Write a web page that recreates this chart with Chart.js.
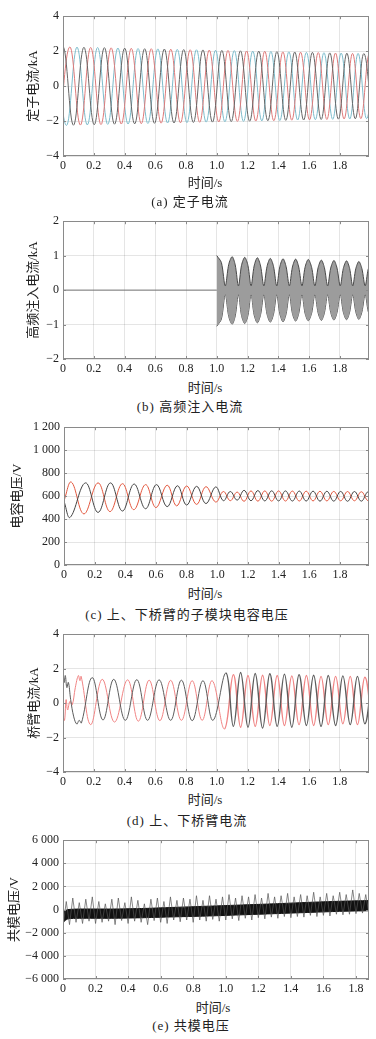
<!DOCTYPE html>
<html><head><meta charset="utf-8">
<script src="https://cdn.jsdelivr.net/npm/chart.js@4/dist/chart.umd.min.js"></script>
<style>
html,body{margin:0;padding:0;background:#fff;}
body{width:376px;height:1039px;position:relative;overflow:hidden;}
canvas{position:absolute;left:0;}
.t{position:absolute;font-size:13px;font-family:"Liberation Serif","Noto Sans CJK SC",serif;color:#222;line-height:16px;white-space:nowrap;transform:translateX(-50%);}
.cap{letter-spacing:1px;}
</style></head><body>
<canvas id="ca" width="376" height="171" style="top:5px"></canvas>
<canvas id="cb" width="376" height="169" style="top:210px"></canvas>
<canvas id="cc" width="376" height="169" style="top:416px"></canvas>
<canvas id="cd" width="376" height="169" style="top:623px"></canvas>
<canvas id="ce" width="376" height="170" style="top:829px"></canvas>
<div class="t" style="left:205px;top:175px">时间/s</div>
<div class="t cap" style="left:190px;top:194px">(a) 定子电流</div>
<div class="t" style="left:205px;top:380px">时间/s</div>
<div class="t cap" style="left:190px;top:399px">(b) 高频注入电流</div>
<div class="t" style="left:205px;top:586px">时间/s</div>
<div class="t cap" style="left:187px;top:607px">(c) 上、下桥臂的子模块电容电压</div>
<div class="t" style="left:205px;top:792px">时间/s</div>
<div class="t cap" style="left:187px;top:813px">(d) 上、下桥臂电流</div>
<div class="t" style="left:213px;top:1000px">时间/s</div>
<div class="t cap" style="left:191px;top:1018px">(e) 共模电压</div>
<script>
// ---------- (a) stator currents: extrema (time s, value kA) ----------
const aBlackT = [-0.068,0,0.068,0.136,0.203,0.269,0.335,0.401,0.466,0.531,0.595,0.659,0.722,0.785,0.848,0.910,0.972,1.033,1.094,1.154,1.214,1.273,1.332,1.391,1.449,1.507,1.565,1.622,1.679,1.735,1.791,1.846,1.901,1.956,2.010];
const aBlackV = [-2.26,2.25,-2.24,2.22,-2.21,2.20,-2.18,2.17,-2.16,2.14,-2.13,2.12,-2.11,2.09,-2.08,2.07,-2.06,2.04,-2.03,2.02,-2.01,2.00,-1.98,1.97,-1.96,1.95,-1.94,1.93,-1.91,1.90,-1.89,1.88,-1.87,1.86,-1.85];
const aRedT = [-0.023,0.045,0.113,0.180,0.247,0.313,0.379,0.444,0.509,0.574,0.638,0.701,0.764,0.827,0.889,0.951,1.013,1.073,1.134,1.194,1.254,1.312,1.371,1.430,1.488,1.545,1.603,1.660,1.716,1.772,1.828,1.883,1.937,1.992,2.046];
const aRedV = [-2.26,2.24,-2.23,2.21,-2.20,2.19,-2.17,2.16,-2.15,2.14,-2.12,2.11,-2.10,2.08,-2.07,2.06,-2.05,2.04,-2.02,2.01,-2.00,1.99,-1.98,1.96,-1.95,1.94,-1.93,1.92,-1.91,1.89,-1.88,1.87,-1.86,1.85,-1.84];
const aCyanT = [-0.045,0.023,0.091,0.158,0.225,0.291,0.357,0.423,0.488,0.552,0.617,0.680,0.743,0.806,0.868,0.931,0.992,1.053,1.114,1.174,1.234,1.293,1.352,1.410,1.469,1.526,1.583,1.641,1.697,1.754,1.809,1.865,1.919,1.974,2.028];
const aCyanV = [2.26,-2.25,2.23,-2.22,2.21,-2.19,2.18,-2.17,2.15,-2.14,2.13,-2.11,2.10,-2.09,2.08,-2.06,2.05,-2.04,2.03,-2.02,2.00,-1.99,1.98,-1.97,1.96,-1.94,1.93,-1.92,1.91,-1.90,1.89,-1.88,1.87,-1.86,1.85];

// ---------- (b) HF injection current ----------
const bZeroT = [0, 1.0];
const bZeroV = [0, 0];
const bEnvT = [1.000,1.030,1.055,1.078,1.100,1.120,1.141,1.161,1.182,1.203,1.223,1.243,1.264,1.285,1.306,1.327,1.348,1.369,1.390,1.410,1.431,1.451,1.472,1.492,1.513,1.533,1.554,1.574,1.595,1.617,1.638,1.659,1.680,1.700,1.721,1.741,1.762,1.782,1.803,1.823,1.844,1.864,1.884,1.904,1.924,1.944,1.965,1.985,2.006];
const bEnvUp = [1.00,0.80,0.12,0.75,0.97,0.73,0.12,0.72,0.95,0.71,0.12,0.70,0.94,0.70,0.12,0.69,0.92,0.69,0.12,0.68,0.91,0.68,0.12,0.67,0.90,0.67,0.12,0.66,0.89,0.66,0.12,0.65,0.87,0.65,0.12,0.64,0.86,0.64,0.12,0.63,0.85,0.63,0.12,0.62,0.83,0.62,0.12,0.61,0.82];
const bEnvLo = [-1.05,-0.84,-0.12,-0.77,-0.99,-0.75,-0.12,-0.74,-0.97,-0.73,-0.12,-0.72,-0.95,-0.71,-0.12,-0.70,-0.93,-0.70,-0.12,-0.69,-0.92,-0.69,-0.12,-0.68,-0.90,-0.68,-0.12,-0.67,-0.89,-0.67,-0.12,-0.66,-0.88,-0.66,-0.12,-0.65,-0.87,-0.65,-0.12,-0.64,-0.86,-0.64,-0.12,-0.63,-0.85,-0.63,-0.12,-0.62,-0.84];

// ---------- (c) sub-module capacitor voltage ----------
const cRedT = [0,0.048,0.130,0.222,0.300,0.381,0.455,0.532,0.600,0.673,0.735,0.800,0.865,0.926,0.990,1.040,1.085,1.130,1.175,1.220,1.265,1.310,1.355,1.400,1.445,1.490,1.535,1.580,1.625,1.670,1.715,1.760,1.805,1.850,1.895,1.940,1.985,2.030];
const cRedV = [560,722,445,715,465,708,482,700,500,695,515,688,528,682,548,640,560,635,555,645,556,645,556,645,557,644,557,643,558,642,558,641,559,640,559,638,560,637];
const cBlackT = [0,0.040,0.140,0.222,0.303,0.381,0.457,0.532,0.603,0.673,0.740,0.800,0.865,0.926,0.990,1.040,1.085,1.130,1.175,1.220,1.265,1.310,1.355,1.400,1.445,1.490,1.535,1.580,1.625,1.670,1.715,1.760,1.805,1.850,1.895,1.940,1.985,2.030];
const cBlackV = [555,415,715,458,715,470,705,490,700,508,690,522,685,535,680,560,640,565,650,560,648,558,646,558,645,557,644,557,643,556,642,556,641,555,640,556,638,557];

// ---------- (d) upper / lower arm currents ----------
const dBlackT = [0,0.008,0.015,0.025,0.035,0.050,0.070,0.090,0.105,0.120,0.190,0.260,0.330,0.405,0.480,0.550,0.625,0.700,0.770,0.840,0.910,0.975,1.060,1.108,1.155,1.203,1.250,1.298,1.345,1.393,1.440,1.488,1.535,1.583,1.630,1.678,1.725,1.773,1.820,1.868,1.915,1.963,2.010];
const dBlackV = [2.0,1.2,1.6,0.9,1.2,0.2,-0.8,-1.22,-1.0,-1.15,1.48,-0.98,1.38,-1.0,1.36,-1.0,1.35,-1.0,1.33,-1.02,1.30,-1.0,1.75,-1.35,1.78,-1.40,1.72,-1.45,1.70,-1.35,1.68,-1.40,1.65,-1.30,1.62,-1.35,1.60,-1.30,1.58,-1.25,1.55,-1.20,1.55];
const dRedT = [0,0.010,0.020,0.030,0.045,0.060,0.080,0.100,0.110,0.118,0.180,0.255,0.335,0.420,0.490,0.560,0.630,0.700,0.770,0.840,0.905,0.970,1.050,1.108,1.155,1.203,1.250,1.298,1.345,1.393,1.440,1.488,1.535,1.583,1.630,1.678,1.725,1.773,1.820,1.868,1.915,1.963,2.010];
const dRedV = [-0.8,-1.0,0.2,-0.4,0.1,-0.1,0.9,1.6,1.3,1.55,-1.25,1.38,-1.1,1.35,-1.05,1.33,-1.02,1.32,-1.0,1.30,-1.0,1.30,-1.50,1.65,-1.40,1.60,-1.35,1.62,-1.30,1.60,-1.30,1.58,-1.25,1.60,-1.30,1.55,-1.25,1.55,-1.20,1.55,-1.25,1.50,-1.20];

// ---------- (e) common-mode voltage ----------
const eBandT = [0,0.03,0.1,0.3,0.5,0.7,0.9,1.1,1.3,1.5,1.7,1.88];
const eBandUp = [-200,0,50,50,100,200,300,400,500,620,720,780];
const eBandLo = [-1100,-800,-750,-750,-700,-620,-550,-450,-350,-250,-150,-100];
const eSpikeStep = 0.02;
const eSpikeV = [-1500,700,-1300,1000,-1100,600,-1200,900,-1000,1100,-1200,700,-1100,500,-1000,900,-1300,1000,-950,600,-1200,1100,-1000,800,-1100,500,-1300,900,-950,1000,-1100,700,-1200,1100,-900,800,-1050,1000,-900,900,-1100,1200,-900,800,-1000,1200,-850,900,-1000,1100,-900,1300,-800,1000,-950,1200,-750,1100,-900,1300,-700,1000,-800,1400,-650,1100,-750,1200,-600,1400,-700,1100,-600,1300,-650,1200,-500,1500,-600,1100,-500,1400,-550,1200,-400,1500,-450,1300,-400,1700,-350,1400,-300,1300,-400];

// ---------- tick labels ----------
const xTickLabels = ['0','0.2','0.4','0.6','0.8','1.0','1.2','1.4','1.6','1.8'];

const SERIF = '"Liberation Serif","Noto Sans CJK SC",serif';
const TXT = '#222';
const GRID = 'rgba(0,0,0,0.10)';

function pts(ts, vs){ return ts.map((t,i)=>({x:t,y:vs[i]})); }
function fmtX(v){ const i = Math.round(v/0.2); return xTickLabels[i] !== undefined ? xTickLabels[i] : ''; }
function fmtSigned(v){ return v<0 ? '\u2212'+Math.abs(v) : String(v); }
function fmtThou(v){
  const a = Math.abs(v);
  const s = a>=1000 ? Math.floor(a/1000)+' '+String(a%1000).padStart(3,'0') : String(a);
  return (v<0?'\u2212':'')+s;
}

const framePlugin = {
  id:'frame',
  afterDatasetsDraw(ch){
    const {ctx, chartArea:a} = ch;
    const xs = ch.scales.x, ys = ch.scales.y;
    ctx.save();
    ctx.strokeStyle = '#8a8a8a'; ctx.lineWidth = 1;
    ctx.beginPath();
    xs.ticks.forEach(t=>{ const p=Math.round(xs.getPixelForValue(t.value))+0.5;
      ctx.moveTo(p,a.bottom); ctx.lineTo(p,a.bottom-3); ctx.moveTo(p,a.top); ctx.lineTo(p,a.top+3); });
    ys.ticks.forEach(t=>{ const p=Math.round(ys.getPixelForValue(t.value))+0.5;
      ctx.moveTo(a.left,p); ctx.lineTo(a.left+3,p); ctx.moveTo(a.right,p); ctx.lineTo(a.right-3,p); });
    ctx.stroke();
    ctx.strokeRect(Math.round(a.left)+0.5, Math.round(a.top)+0.5, Math.round(a.width)-1, Math.round(a.height)-1);
    ctx.restore();
  }
};

function makeChart(id, cfg){
  return new Chart(document.getElementById(id), {
    type:'line',
    data:{datasets:cfg.datasets},
    options:{
      responsive:false, animation:false, devicePixelRatio:1,
      layout:{padding:{top:10,right:7,bottom:0,left:0}},
      plugins:{legend:{display:false}, tooltip:{enabled:false}},
      elements:{point:{radius:0}, line:{borderWidth:1, tension:0.4}},
      scales:{
        x:{type:'linear', min:0, max:cfg.xmax,
           grid:{color:GRID, drawTicks:false}, border:{display:false},
           ticks:{stepSize:0.2, includeBounds:false, autoSkip:false, maxRotation:0, minRotation:0, padding:3,
                  color:TXT, font:{family:SERIF,size:12}, callback:v=>fmtX(v)},
           afterFit:s=>{s.height=20;}},
        y:{type:'linear', min:cfg.ymin, max:cfg.ymax,
           grid:{color:GRID, drawTicks:false}, border:{display:false},
           ticks:{stepSize:cfg.ystep, padding:4, color:TXT, font:{family:SERIF,size:12}, callback:cfg.fmtY},
           title:{display:true, text:cfg.ytitle, color:TXT, font:{family:SERIF,size:13}, padding:{top:cfg.ytpad,bottom:0}},
           afterFit:s=>{s.width=cfg.left;}}
      }
    },
    plugins:[framePlugin]
  });
}

makeChart('ca', {xmax:1.99, ymin:-4, ymax:4, ystep:2, fmtY:fmtSigned, ytitle:'定子电流/kA', ytpad:26, left:63,
  datasets:[
    {data:pts(aBlackT,aBlackV), borderColor:'#666'},
    {data:pts(aRedT,aRedV), borderColor:'#de7a7a'},
    {data:pts(aCyanT,aCyanV), borderColor:'#7dbccc'}
  ]});

makeChart('cb', {xmax:1.99, ymin:-2, ymax:2, ystep:1, fmtY:fmtSigned, ytitle:'高频注入电流/kA', ytpad:26, left:63,
  datasets:[
    {data:pts(bEnvT,bEnvUp), borderColor:'#4a4a4a', backgroundColor:'#9c9c9c', fill:'+1', tension:0.3},
    {data:pts(bEnvT,bEnvLo), borderColor:'#4a4a4a', tension:0.3},
    {data:pts(bZeroT,bZeroV), borderColor:'#777', tension:0}
  ]});

makeChart('cc', {xmax:1.99, ymin:0, ymax:1200, ystep:200, fmtY:fmtThou, ytitle:'电容电压/V', ytpad:10, left:64,
  datasets:[
    {data:pts(cBlackT,cBlackV), borderColor:'#444'},
    {data:pts(cRedT,cRedV), borderColor:'#e2583f'}
  ]});

const thick = c => (c.p0.parsed.x >= 0.99 ? 1.4 : 1);
makeChart('cd', {xmax:1.99, ymin:-4, ymax:4, ystep:2, fmtY:fmtSigned, ytitle:'桥臂电流/kA', ytpad:27, left:63,
  datasets:[
    {data:pts(dBlackT,dBlackV), borderColor:'#5c5c5c', segment:{borderWidth:thick}},
    {data:pts(dRedT,dRedV), borderColor:'#f08484', segment:{borderWidth:thick}}
  ]});

makeChart('ce', {xmax:1.88, ymin:-6000, ymax:6000, ystep:2000, fmtY:fmtThou, ytitle:'共模电压/V', ytpad:7, left:63,
  datasets:[
    {data:eSpikeV.map((v,i)=>({x:i*eSpikeStep, y:v})), borderColor:'#555', borderWidth:0.7, tension:0},
    {data:pts(eBandT,eBandUp), borderColor:'#111', backgroundColor:'#111', fill:'+1', tension:0.2},
    {data:pts(eBandT,eBandLo), borderColor:'#111', tension:0.2}
  ]});
</script>
</body></html>
